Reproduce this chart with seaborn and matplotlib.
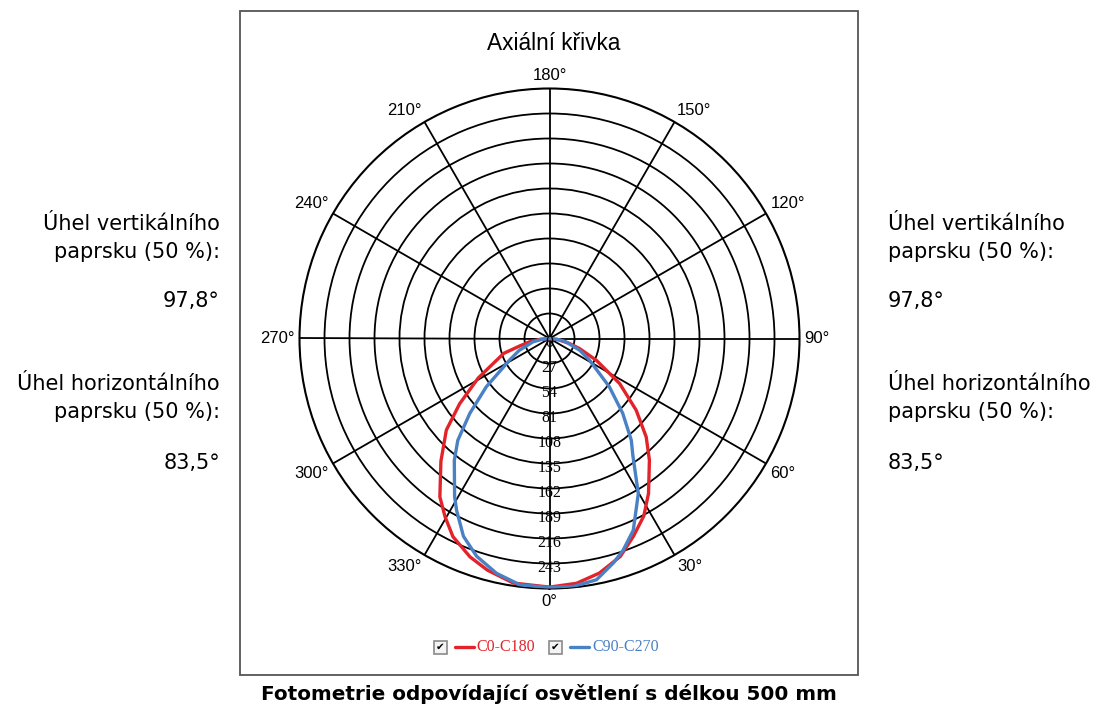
import numpy as np
import matplotlib
matplotlib.use("Agg")
import matplotlib.pyplot as plt
import matplotlib.transforms as mtransforms
from matplotlib.patches import Rectangle
from matplotlib.lines import Line2D
import seaborn as sns

# ---------------- data ----------------
red_angles = [-90, -85, -80.5, -76, -72, -65, -61, -54, -48.4, -41.5, -34.7, -30.4, -26, -20, -15, -8.4,
              0, 6.3, 12, 18, 23, 28, 32.6, 39.4, 44.5, 50.4, 57.3, 65, 71.6, 76, 82, 90]
red_values = [0, 10, 22, 33, 52, 70, 88, 120, 149, 177, 208, 223, 238, 251, 259, 267,
              268.5, 266, 259, 247.5, 232, 217, 198.5, 170, 149, 121.5, 90, 56, 34, 22, 10, 0]

blue_angles = [-90, -84, -78.7, -68.7, -61.6, -52.6, -46.8, -42, -38, -31, -28.4, -23.5, -18.5, -12.7, -6.8,
               0, 5.5, 11, 15.9, 19.2, 23.6, 29.8, 35.5, 38.8, 44.4, 51.1, 61.6, 68.7, 78.7, 84, 90]
blue_values = [0, 8, 18, 35, 49, 86, 118, 148, 167, 199, 211, 233, 248, 260, 268,
               269, 269, 265.5, 252, 242, 226, 193, 155, 141, 113, 83, 49, 35, 18, 8, 0]

r_ticks = [0, 27, 54, 81, 108, 135, 162, 189, 216, 243]
r_tick_labels = [str(v) for v in r_ticks]
r_max = 270
theta_ticks = list(range(0, 360, 30))
theta_tick_labels = [f"{t}°" for t in theta_ticks]

series_names = ["C0-C180", "C90-C270"]
series_colors = ["#e3232a", "#4a80c4"]

title = "Axiální křivka"
side_lines = ["Úhel vertikálního", "paprsku (50 %):", "97,8°",
              "Úhel horizontálního", "paprsku (50 %):", "83,5°"]
caption = "Fotometrie odpovídající osvětlení s délkou 500 mm"

# ---------------- style ----------------
sns.set_style("white")
plt.rcParams['font.family'] = ['DejaVu Sans']

W, H = 1098, 707
fig = plt.figure(figsize=(W / 100, H / 100), dpi=100)


def fx(px):
    return px / W


def fy(py):
    return 1 - py / H


# outer frame box
fig.patches.append(Rectangle((fx(240), fy(675)), fx(858) - fx(240), fy(11) - fy(675),
                             transform=fig.transFigure, fill=False,
                             edgecolor='#555555', lw=1.3))

# polar axes
cx, cy, rad = 549.5, 338.5, 250
ax = fig.add_axes([fx(cx - rad), fy(cy + rad), 2 * rad / W, 2 * rad / H], projection='polar')
ax.set_theta_zero_location('S')
ax.set_theta_direction(1)

sns.lineplot(x=np.deg2rad(red_angles), y=red_values, ax=ax, color=series_colors[0],
             lw=2.4, sort=False, estimator=None, legend=False, zorder=5)
sns.lineplot(x=np.deg2rad(blue_angles), y=blue_values, ax=ax, color=series_colors[1],
             lw=2.4, sort=False, estimator=None, legend=False, zorder=6)

ax.set_ylim(0, r_max)
ax.set_yticks(r_ticks[1:])
ax.set_yticklabels([])
ax.set_xticks(np.deg2rad(theta_ticks))
ax.set_xticklabels([])
ax.tick_params(length=0)
ax.grid(True, color='black', lw=1.3)
ax.spines['polar'].set_color('black')
ax.spines['polar'].set_linewidth(1.5)
ax.set_xlabel('')
ax.set_ylabel('')

# radial labels along the 0° spoke
rl_off = mtransforms.ScaledTranslation(0, -0.045, fig.dpi_scale_trans)
for v, lab in zip(r_ticks, r_tick_labels):
    ax.text(0, v, lab, ha='center', va='center', fontsize=11.5,
            family='Liberation Serif', color='black', transform=ax.transData + rl_off, zorder=7)

# angle labels outside the circle
gap = 0.05
for t, lab in zip(theta_ticks, theta_tick_labels):
    phi = np.deg2rad(t - 90)
    c, s = np.cos(phi), np.sin(phi)
    ha = 'left' if c > 0.05 else ('right' if c < -0.05 else 'center')
    va = 'bottom' if s > 0.05 else ('top' if s < -0.05 else 'center')
    off = mtransforms.ScaledTranslation(gap * c, gap * s, fig.dpi_scale_trans)
    ax.text(np.deg2rad(t), r_max, lab, ha=ha, va=va, fontsize=12,
            family='Liberation Sans', color='black', transform=ax.transData + off)

# title
fig.text(fx(554), fy(44), title, ha='center', va='center', fontsize=16.3,
         family='Liberation Sans', color='black')

# legend (checkbox + line + label)
leg_y = 647
leg_items = [(434, 455, 474, 476), (549, 570, 589, 592)]
for (bx, lx0, lx1, tx), name, col in zip(leg_items, series_names, series_colors):
    fig.patches.append(Rectangle((fx(bx), fy(leg_y + 6.5)), 13 / W, 13 / H,
                                 transform=fig.transFigure, facecolor='#f4f4f4',
                                 edgecolor='#8a8a8a', lw=1.2))
    fig.text(fx(bx + 6.5), fy(leg_y), "✔", ha='center', va='center', fontsize=7.5,
             color='black', family='DejaVu Sans')
    fig.lines.append(Line2D([fx(lx0), fx(lx1)], [fy(leg_y), fy(leg_y)],
                            transform=fig.transFigure, color=col, lw=2.4))
    fig.text(fx(tx), fy(leg_y), name, ha='left', va='center', fontsize=11.5,
             family='Liberation Serif', color=col)

# side texts
side_y = [224, 252, 301, 384, 412, 463]
for s_txt, yy in zip(side_lines, side_y):
    fig.text(fx(220), fy(yy), s_txt, ha='right', va='center', fontsize=15, color='black')
    fig.text(fx(888), fy(yy), s_txt, ha='left', va='center', fontsize=15, color='black')

# caption
fig.text(fx(549), fy(694), caption, ha='center', va='center', fontsize=14.4,
         fontweight='bold', color='black')

fig.savefig("out.png", dpi=100, facecolor='white')
